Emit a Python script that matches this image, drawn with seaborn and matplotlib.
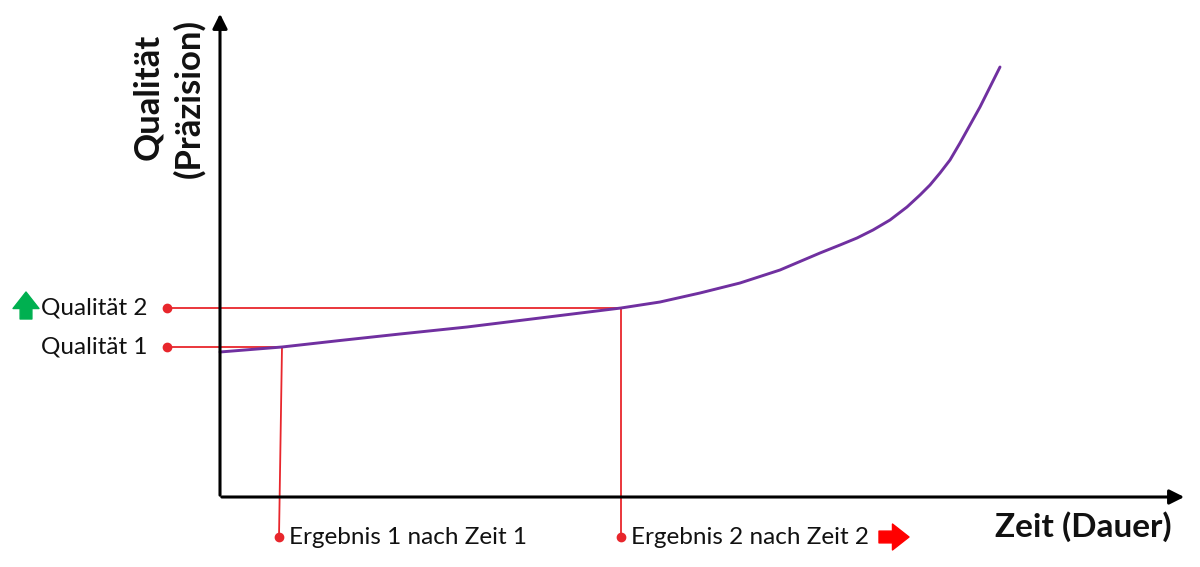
import numpy as np
import pandas as pd
import matplotlib
matplotlib.use('Agg')
import matplotlib.pyplot as plt
import seaborn as sns

# curve (time vs quality, arbitrary units)
zeit = [0, 62, 120, 180, 247, 320, 401, 440, 480, 520, 560, 600, 620, 637, 653,
        670, 687, 700, 710, 720, 730, 740, 750, 760, 770, 780]
qualitaet = [145, 150, 156.5, 163, 170, 179, 189, 195, 204, 214, 227, 244, 252, 259, 267,
             277, 290, 302, 312, 324, 337, 354, 372, 390, 410, 430]

# the two marked results
ergebnis_zeit = [62, 401]
ergebnis_qual = [150, 189]
qual_labels = ['Qualität 1', 'Qualität 2']
ergebnis_labels = ['Ergebnis 1 nach Zeit 1', 'Ergebnis 2 nach Zeit 2']

purple = '#7030a0'
red = '#e8262c'
green = '#00b050'

sns.set_style('white')
plt.rcParams['font.family'] = ['Lato', 'DejaVu Sans']

fig = plt.figure(figsize=(12, 5.67), dpi=100)
ax = fig.add_axes([0, 0, 1, 1])
ax.set_xlim(-220, 980)
ax.set_ylim(-70, 497)
ax.axis('off')

df = pd.DataFrame({'Zeit': zeit, 'Qualitaet': qualitaet})
sns.lineplot(data=df, x='Zeit', y='Qualitaet', color=purple, lw=2.1, ax=ax)

# axes with arrows
ax.annotate('', xy=(967, 0), xytext=(-1, 0),
            arrowprops=dict(arrowstyle='-|>', color='black', lw=2.2, mutation_scale=22))
ax.annotate('', xy=(0, 486), xytext=(0, -1),
            arrowprops=dict(arrowstyle='-|>', color='black', lw=2.2, mutation_scale=22))

# red guide lines with dots
x_left = -53
y_bottom = -40
for i in range(2):
    xe, ye = ergebnis_zeit[i], ergebnis_qual[i]
    xb = xe - 3 if i == 0 else xe
    ax.plot([x_left, xe], [ye, ye], color=red, lw=1.3, zorder=1)
    ax.plot([xe, xb], [ye, y_bottom], color=red, lw=1.3, zorder=1)
    ax.plot([x_left], [ye], 'o', color=red, ms=6, zorder=3)
    ax.plot([xb], [y_bottom], 'o', color=red, ms=6, zorder=3)
    ax.text(x_left - 20, ye, qual_labels[i], ha='right', va='center', fontsize=17.5, color='#111111')
    ax.text(xb + 10, y_bottom, ergebnis_labels[i], ha='left', va='center', fontsize=17.5, color='#111111')

# green up arrow next to Qualität 2
ax.annotate('', xy=(-194, 205), xytext=(-194, 178),
            arrowprops=dict(arrowstyle='simple,head_width=1.1,head_length=0.7,tail_width=0.5',
                            color=green, mutation_scale=17, shrinkA=0, shrinkB=0))
# red right arrow after Ergebnis 2
ax.annotate('', xy=(689, -40), xytext=(659, -40),
            arrowprops=dict(arrowstyle='simple,head_width=1.1,head_length=0.7,tail_width=0.5',
                            color='#ff0000', mutation_scale=17, shrinkA=0, shrinkB=0))

# axis titles
ax.text(-72, 400, 'Qualität', rotation=90, ha='center', va='center',
        fontsize=25, fontweight='bold', color='#111111')
ax.text(-31, 399, '(Präzision)', rotation=90, ha='center', va='center',
        fontsize=25, fontweight='bold', color='#111111')
ax.text(863, -30, 'Zeit (Dauer)', ha='center', va='center',
        fontsize=24, fontweight='bold', color='#111111')

fig.savefig('out.png', dpi=100)
